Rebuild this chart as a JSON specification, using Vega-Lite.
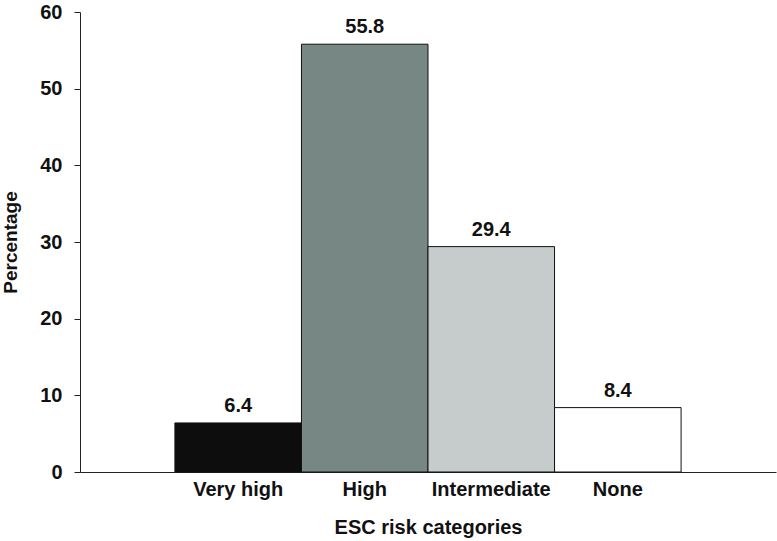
{
  "$schema": "https://vega.github.io/schema/vega-lite/v6.json",
  "autosize": "none",
  "width": 696,
  "height": 460,
  "padding": {"left": 80, "top": 12, "right": 1, "bottom": 69},
  "background": "white",
  "config": {
    "view": {"stroke": null},
    "font": "Liberation Sans",
    "axis": {"grid": false, "domainColor": "#222", "tickColor": "#222", "labelFont": "Liberation Sans", "titleFont": "Liberation Sans", "labelFontWeight": "bold", "titleFontWeight": "bold", "labelColor": "#111", "titleColor": "#111"}
  },
  "data": {
    "values": [
      {"category": "Very high", "pct": 6.4},
      {"category": "High", "pct": 55.8},
      {"category": "Intermediate", "pct": 29.4},
      {"category": "None", "pct": 8.4}
    ]
  },
  "encoding": {
    "x": {
      "field": "category", "type": "nominal", "sort": null,
      "scale": {"paddingInner": 0, "paddingOuter": 0.75},
      "axis": {"title": "ESC risk categories", "labelAngle": 0, "ticks": false, "labelPadding": 7, "labelFontSize": 20, "titleFontSize": 20, "titlePadding": 18}
    },
    "y": {
      "field": "pct", "type": "quantitative",
      "scale": {"domain": [0, 60]},
      "axis": {"title": "Percentage", "values": [0, 10, 20, 30, 40, 50, 60], "tickSize": 6, "labelPadding": 12, "labelFontSize": 20, "titleFontSize": 19, "titlePadding": 19}
    }
  },
  "layer": [
    {
      "mark": {"type": "bar", "stroke": "#111", "strokeWidth": 1},
      "encoding": {
        "color": {
          "field": "category", "type": "nominal", "legend": null,
          "scale": {"domain": ["Very high", "High", "Intermediate", "None"], "range": ["#0d0d0d", "#778784", "#c6cccb", "#ffffff"]}
        }
      }
    },
    {
      "mark": {"type": "text", "dy": -11, "fontSize": 20, "fontWeight": "bold", "color": "#111", "baseline": "alphabetic"},
      "encoding": {"text": {"field": "pct", "type": "quantitative", "format": ".1f"}}
    }
  ]
}
